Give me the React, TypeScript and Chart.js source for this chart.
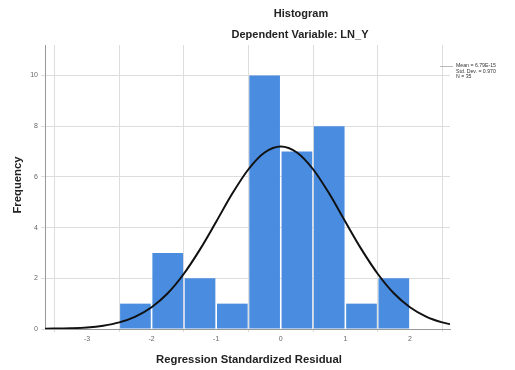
import React, { useEffect, useRef } from "react";
import { Chart, registerables } from "chart.js";

Chart.register(...registerables);

const binCenters = [-2.25, -1.75, -1.25, -0.75, -0.25, 0.25, 0.75, 1.25, 1.75];
const frequencies = [1, 3, 2, 1, 10, 7, 8, 1, 2];

const curveX = [-3.65, -3.25, -3, -2.75, -2.5, -2.25, -2, -1.75, -1.5, -1.25, -1, -0.75, -0.5, -0.25, 0, 0.25, 0.5, 0.75, 1, 1.25, 1.5, 1.75, 2, 2.25, 2.5, 2.62];
const curveY = [0.01, 0.03, 0.06, 0.13, 0.26, 0.49, 0.86, 1.41, 2.18, 3.14, 4.23, 5.34, 6.3, 6.96, 7.2, 6.96, 6.3, 5.34, 4.23, 3.14, 2.18, 1.41, 0.86, 0.49, 0.26, 0.19];

const chartTitle = "Histogram";
const chartSubtitle = "Dependent Variable: LN_Y";
const xTitle = "Regression Standardized Residual";
const yTitle = "Frequency";
const statsLines = ["Mean = 6.79E-15", "Std. Dev. = 0.970", "N = 35"];

const FONT = "'Liberation Sans', Arial, sans-serif";

const textPlugin = {
  id: "spssText",
  afterDraw(chart: any) {
    const ctx = chart.ctx;
    const area = chart.chartArea;
    ctx.save();
    ctx.fillStyle = "#222";
    ctx.textAlign = "center";
    ctx.textBaseline = "middle";
    ctx.font = `bold 11px ${FONT}`;
    ctx.fillText(chartTitle, 301, 14);
    ctx.fillText(chartSubtitle, 300, 35);
    ctx.font = `bold 11.3px ${FONT}`;
    ctx.fillText(xTitle, 249, 360);
    ctx.save();
    ctx.translate(18, (area.top + area.bottom) / 2 - 2);
    ctx.rotate(-Math.PI / 2);
    ctx.fillText(yTitle, 0, 0);
    ctx.restore();
    // stats legend
    ctx.strokeStyle = "#bbb";
    ctx.lineWidth = 1;
    ctx.beginPath();
    ctx.moveTo(area.right - 10, 66.5);
    ctx.lineTo(area.right + 3, 66.5);
    ctx.stroke();
    ctx.font = `5.2px ${FONT}`;
    ctx.textAlign = "left";
    ctx.fillStyle = "#333";
    statsLines.forEach((s, i) => ctx.fillText(s, area.right + 6, 66 + i * 5.2));
    ctx.restore();
  },
};

export default function App() {
  const ref = useRef<HTMLCanvasElement>(null);
  useEffect(() => {
    document.body.style.margin = "0";
    const chart = new Chart(ref.current as HTMLCanvasElement, {
      type: "bar",
      data: {
        datasets: [
          {
            type: "line",
            data: curveX.map((x, i) => ({ x, y: curveY[i] })),
            borderColor: "#111",
            borderWidth: 2,
            pointRadius: 0,
            cubicInterpolationMode: "monotone",
            order: 0,
          } as any,
          {
            type: "bar",
            data: binCenters.map((x, i) => ({ x, y: frequencies[i] })),
            backgroundColor: "#4a8de0",
            borderWidth: 0,
            barPercentage: 0.95,
            categoryPercentage: 1,
            order: 1,
          } as any,
        ],
      },
      options: {
        animation: false,
        responsive: false,
        maintainAspectRatio: false,
        layout: { padding: { left: 0, top: 45, right: 65, bottom: 0 } },
        plugins: { legend: { display: false }, tooltip: { enabled: false }, title: { display: false } },
        scales: {
          x: {
            type: "linear",
            min: -3.65,
            max: 2.62,
            offset: false,
            ticks: { stepSize: 1, includeBounds: false, font: { size: 7, family: FONT }, color: "#666", padding: 3 },
            grid: { color: "#ddd", tickLength: 3 },
            border: { color: "#999" },
            afterFit: (s: any) => { s.height = 41; },
          },
          y: {
            min: 0,
            max: 11.2,
            ticks: { stepSize: 2, includeBounds: false, font: { size: 7, family: FONT }, color: "#666", padding: 3 },
            grid: { color: "#ddd", tickLength: 4 },
            border: { color: "#999" },
            afterFit: (s: any) => { s.width = 45; },
          },
        },
      },
      plugins: [textPlugin],
    } as any);
    return () => chart.destroy();
  }, []);
  return (
    <div style={{ width: 515, height: 370 }}>
      <canvas ref={ref} width={515} height={370} style={{ width: 515, height: 370, display: "block" }} />
    </div>
  );
}
